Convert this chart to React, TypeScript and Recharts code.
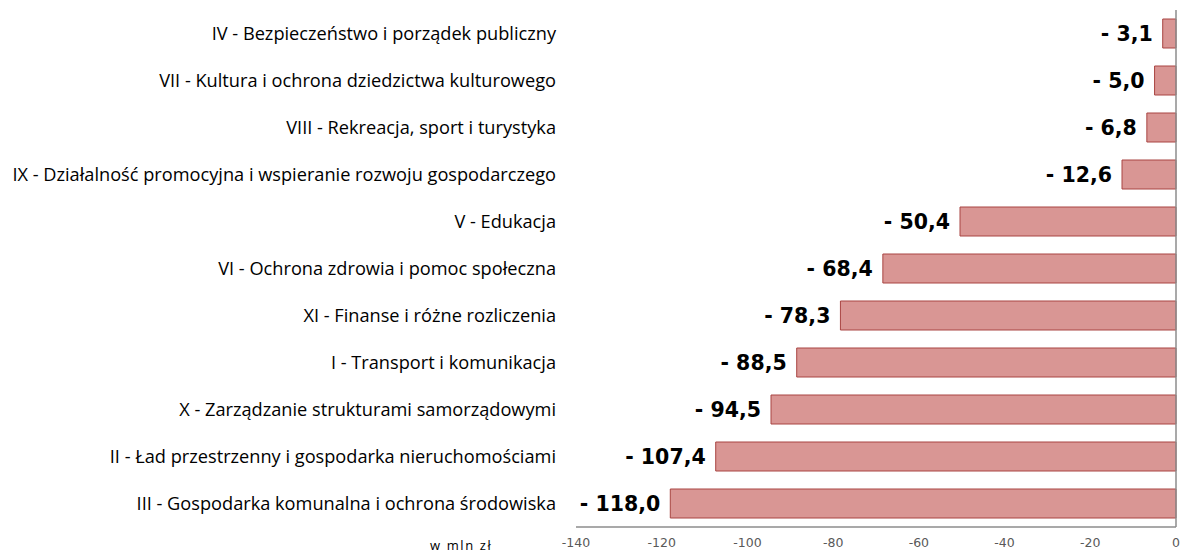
import { Bar, BarChart, LabelList, ReferenceLine, XAxis, YAxis } from "recharts";

const categories = [
  "IV - Bezpieczeństwo i porządek publiczny",
  "VII - Kultura i ochrona dziedzictwa kulturowego",
  "VIII - Rekreacja, sport i turystyka",
  "IX - Działalność promocyjna i wspieranie rozwoju gospodarczego",
  "V - Edukacja",
  "VI - Ochrona zdrowia i pomoc społeczna",
  "XI - Finanse i różne rozliczenia",
  "I - Transport i komunikacja",
  "X - Zarządzanie strukturami samorządowymi",
  "II - Ład przestrzenny i gospodarka nieruchomościami",
  "III - Gospodarka komunalna i ochrona środowiska",
];
const values = [-3.1, -5.0, -6.8, -12.6, -50.4, -68.4, -78.3, -88.5, -94.5, -107.4, -118.0];
const xTicks = [-140, -120, -100, -80, -60, -40, -20, 0];

const data = categories.map((name, i) => ({ name, value: values[i] }));

const fmt = (v: number) => "- " + Math.abs(v).toFixed(1).replace(".", ",");

function ValueLabel(props: any) {
  const { x, y, width, height, value } = props;
  const left = Math.min(Number(x), Number(x) + Number(width));
  return (
    <text
      x={left - 10}
      y={Number(y) + Number(height) / 2}
      textAnchor="end"
      dominantBaseline="central"
      fontFamily="DejaVu Sans"
      fontWeight={700}
      fontSize={20.5}
      fill="#000"
    >
      {fmt(Number(value))}
    </text>
  );
}

export default function App() {
  return (
    <div style={{ position: "absolute", left: 0, top: 0, width: 1189, height: 556, background: "#fff" }}>
      <BarChart
        width={1189}
        height={556}
        data={data}
        layout="vertical"
        margin={{ top: 10, right: 13, bottom: 0, left: 0 }}
      >
        <XAxis
          type="number"
          domain={[-140, 0]}
          ticks={xTicks}
          height={29}
          axisLine={{ stroke: "#8c8c8c", strokeWidth: 1.5 }}
          tickLine={false}
          tickMargin={5}
          tick={{ fill: "#595959", fontSize: 12.5, fontFamily: "DejaVu Sans" }}
        />
        <YAxis
          type="category"
          dataKey="name"
          width={576}
          axisLine={false}
          tickLine={false}
          tickSize={0}
          tickMargin={20}
          interval={0}
          tick={{ fill: "#000", fontSize: 18.2, fontFamily: "Open Sans" }}
        />
        <ReferenceLine x={0} stroke="#8c8c8c" strokeWidth={1.5} />
        <Bar dataKey="value" fill="#d99694" stroke="#a94542" strokeWidth={1} barSize={29} isAnimationActive={false}>
          <LabelList dataKey="value" content={ValueLabel} />
        </Bar>
      </BarChart>
      <div
        style={{
          position: "absolute",
          left: 430,
          top: 536,
          fontFamily: "Open Sans",
          fontSize: 13,
          letterSpacing: 1.6,
          color: "#000",
        }}
      >
        w mln zł
      </div>
    </div>
  );
}
